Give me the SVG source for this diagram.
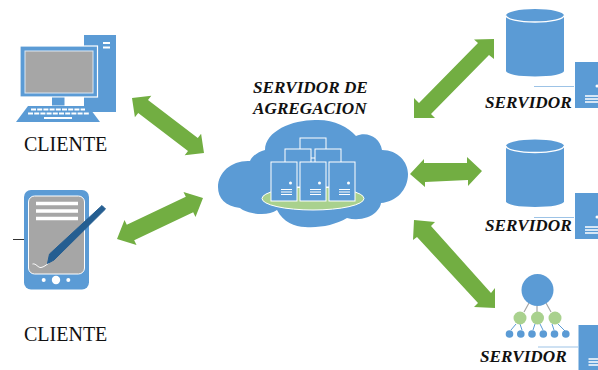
<svg xmlns="http://www.w3.org/2000/svg" width="598" height="370" viewBox="0 0 598 370">
<style>
.b{fill:#5b9bd5}
.g{fill:#72ae42}
.w{fill:#fff}
.sv{fill:#5b9bd5;stroke:#fff;stroke-width:1}
.wl{stroke:#fff;fill:none}
.kl{stroke:#fff;stroke-width:1.8;stroke-dasharray:5 1.2;fill:none}
.conn{stroke:#9dc3e6;stroke-width:1;fill:none}
.t{font-family:"Liberation Serif","Times New Roman",serif;fill:#111}
.n{font-size:20px}
.bi{font-size:17.200px;font-weight:bold;font-style:italic}
</style>
<defs>
<g id="srv"><rect class="sv" width="26" height="39"/><circle class="w" cx="19.500" cy="21" r="1.500"/><path class="wl" d="M10 27.500H21M10 30H21M10 32.500H21"/></g>
<g id="db"><path class="b" d="M0 6.500A29 6.500 0 0 1 58 6.500V62A29 5.500 0 0 1 0 62Z"/><path class="wl" stroke-width="1.300" d="M0 6.500A29 6.500 0 0 0 58 6.500"/></g>
<g id="doc"><rect class="b" width="24" height="46"/><circle class="w" cx="22" cy="24" r="1.500"/><path class="wl" stroke-width="1.500" d="M10 34H24M10 37H24M10 40H24"/></g>
</defs>
<g id="connectors">
<polygon class="g" points="132,98 151.300,95.800 148,100.100 197.800,138.100 201.100,133.800 204,153 184.700,155.200 188,150.900 138.200,112.900 134.900,117.200"/>
<polygon class="g" points="117,239 124.500,219.900 126.800,224.800 185.800,196.800 183.500,191.900 203,198 195.500,217.100 193.200,212.200 134.200,240.200 136.500,245.100"/>
<polygon class="g" points="494,39 494,59 489,55 431,114 435,118 414,118 414,98 419,103 478,43 474,39.500"/>
<polygon class="g" points="410,174 424,159 424,163 467,163 467,157 482,171 468,186 468,180 425,182 425,187"/>
<polygon class="g" points="414,220 435,222 431,226 491,293 495,288 495,308 474,307 478,303 417,237 413,240"/>
</g>
<g id="cliente-pc">
<rect class="b" x="84" y="35" width="32" height="77"/>
<path class="wl" stroke-width="1.800" d="M103 43H110M103 47.500H110"/>
<rect class="b" x="20" y="46" width="77.500" height="51" stroke="#fff" stroke-width="1.200"/>
<rect x="25" y="51" width="68" height="42" fill="#a6a6a6" stroke="#dbe7f3" stroke-width="1"/>
<rect class="b" x="52" y="97.500" width="12.500" height="8"/>
<polygon class="b" points="16,122 100,122 88,106 28,106"/>
<path class="kl" d="M31 109.500H85M28 113.500H89"/>
<path class="wl" stroke-width="2" d="M44 118H72"/>
<text class="t n" x="24" y="151">CLIENTE</text>
</g>
<g id="cliente-tablet">
<path d="M13 239.500H24" stroke="#333" stroke-width="1"/>
<rect class="b" x="24" y="190" width="65" height="99.500" rx="7"/>
<rect x="28.500" y="196" width="56" height="78" rx="6" fill="#a6a6a6" stroke="#fff" stroke-width="1"/>
<path class="wl" stroke-width="3.500" d="M36 203.500H78M36 211H78M36 218.500H78"/>
<path class="wl" stroke-width="1" d="M32.500 264C36 263 38 268 41 267.500C44 267 46 265 49 263"/>
<polygon fill="#255e91" stroke="#255e91" stroke-width="1" stroke-linejoin="round" points="47.500,263.500 49.500,254 102,205.500 105.500,209 54,260"/>
<circle class="w" cx="56" cy="280" r="4.200"/>
<circle class="w" cx="43.700" cy="280" r="2"/>
<circle class="w" cx="68.300" cy="280" r="2"/>
<text class="t n" x="24" y="341">CLIENTE</text>
</g>
<g id="servidor-agregacion">
<text class="t bi" x="253" y="93">SERVIDOR DE</text>
<text class="t bi" x="253" y="114">AGREGACION</text>
<path class="b" d="M218 187C218 172 232 160 250 161C252 156 258 152 265 150C265 130 295 119 318 120C335 120 348 127 356 136C368 131 380 138 382 150C398 150 408 162 408 174C408 190 396 202 381 203C381 205 379 209 376 212C370 218 358 221 347 218C335 225 320 228 305 227C295 227 283 222 277 210C268 217 247 214 240 208C225 206 218 198 218 187Z"/>
<ellipse cx="313" cy="198.500" rx="51" ry="11.500" fill="#a9d18e" stroke="#fff" stroke-width="1"/>
<rect class="sv" x="300" y="138" width="26" height="20"/>
<rect class="sv" x="285" y="149" width="26" height="38"/>
<rect class="sv" x="315" y="149" width="26" height="38"/>
<use href="#srv" x="271" y="162"/>
<use href="#srv" x="300" y="162"/>
<use href="#srv" x="329" y="162"/>
</g>
<g id="servidor-1">
<use href="#db" x="506" y="9"/>
<path class="conn" d="M534 86.500H574"/>
<use href="#doc" x="575" y="62"/>
<text class="t bi" x="485" y="108">SERVIDOR</text>
</g>
<g id="servidor-2">
<use href="#db" x="506" y="139.500"/>
<use href="#doc" x="575" y="193"/>
<text class="t bi" x="485" y="231">SERVIDOR</text>
<path class="conn" d="M534 217.500H574"/>
</g>
<g id="servidor-3">
<path stroke="#a6a6a6" stroke-width="1.200" fill="none" d="M529 303L524 312M537 306V312M546 303L551 312"/>
<path stroke="#5b9bd5" stroke-width="1" fill="none" d="M516 324L511 330M520 324L522 330M535 324L533 330M540 324L543 330M552 324L554 330M558 324L565 331"/>
<circle class="b" cx="537.500" cy="290" r="16"/>
<circle cx="520" cy="318" r="6.500" fill="#a9d18e"/>
<circle cx="537.500" cy="318" r="6.500" fill="#a9d18e"/>
<circle cx="555" cy="318" r="6.500" fill="#a9d18e"/>
<circle class="b" cx="509.500" cy="334" r="3.800"/>
<circle class="b" cx="520.800" cy="334" r="3.800"/>
<circle class="b" cx="532" cy="334" r="3.800"/>
<circle class="b" cx="543.300" cy="334" r="3.800"/>
<circle class="b" cx="554.500" cy="334" r="3.800"/>
<circle class="b" cx="565.800" cy="334" r="3.800"/>
<path class="conn" d="M538 347H578"/>
<use href="#doc" x="578.500" y="325"/>
<text class="t bi" x="480" y="362">SERVIDOR</text>
</g>
</svg>
